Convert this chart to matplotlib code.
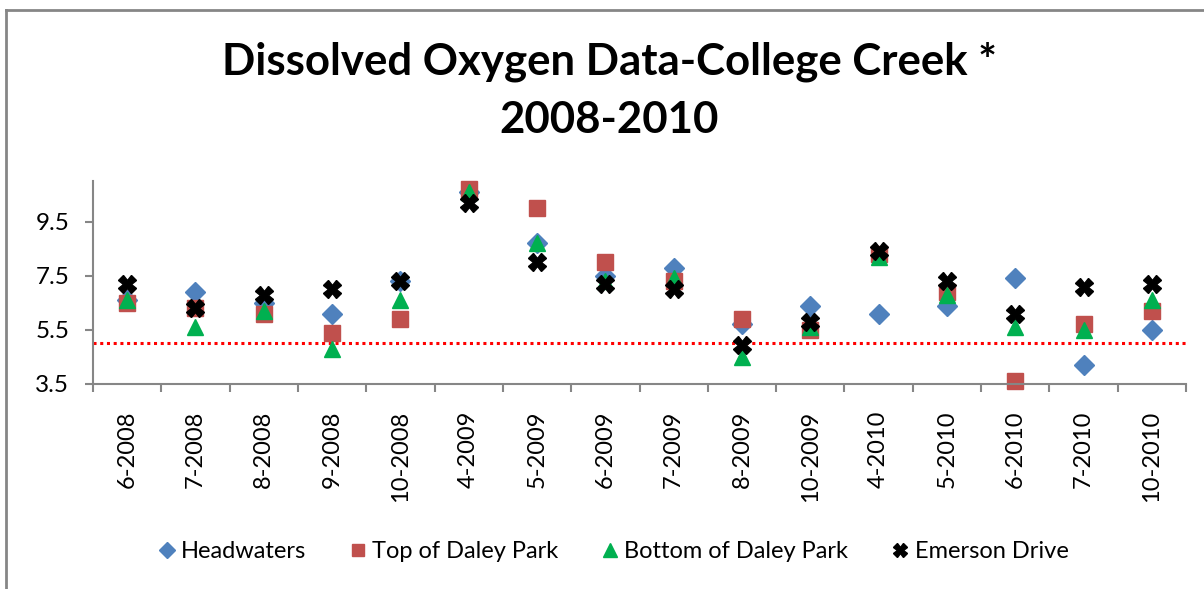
import matplotlib
matplotlib.use('Agg')
import matplotlib.pyplot as plt
import matplotlib.ticker as ticker
from matplotlib.lines import Line2D
import numpy as np

#------------------------------------------------------------------------------
# DATA

months = ['6-2008', '7-2008', '8-2008', '9-2008', '10-2008', '4-2009', '5-2009', '6-2009',
          '7-2009', '8-2009', '10-2009', '4-2010', '5-2010', '6-2010', '7-2010', '10-2010']

headwaters   = [6.6, 6.9, 6.5, 6.1, 7.3, 10.6, 8.7, 7.5, 7.8, 5.7, 6.4, 6.1, 6.4, 7.4, 4.2, 5.5]
top_daley    = [6.5, 6.3, 6.1, 5.4, 5.9, 10.7, 10.0, 8.0, 7.3, 5.9, 5.5, 8.3, 6.9, 3.6, 5.7, 6.2]
bottom_daley = [6.6, 5.6, 6.2, 4.8, 6.6, 10.6, 8.7, 7.3, 7.4, 4.5, 5.6, 8.2, 6.8, 5.6, 5.5, 6.6]
emerson      = [7.2, 6.3, 6.8, 7.0, 7.3, 10.2, 8.0, 7.2, 7.0, 4.95, 5.8, 8.4, 7.3, 6.1, 7.1, 7.2]

do_standard = 5.0   # dotted red reference line

yticks = [3.5, 5.5, 7.5, 9.5]

#------------------------------------------------------------------------------
# PLOT THE GRAPH

plt.rcParams['font.family'] = ['Lato', 'DejaVu Sans']

fig = plt.figure(figsize=(12.04, 5.89), dpi=100)
ax = fig.add_axes([93/1204, 1-384/589, (1186-93)/1204, (384-181)/589])

x = np.arange(len(months))
grey = '#868686'

ax.plot(x, headwaters, ls='none', marker='D', ms=10, c='#4F81BD', mec='#4F81BD', label='Headwaters', clip_on=False)
ax.plot(x, top_daley, ls='none', marker='s', ms=11, c='#C0504D', mec='#C0504D', label='Top of Daley Park', clip_on=False)
ax.plot(x, bottom_daley, ls='none', marker='^', ms=12, c='#00B050', mec='#00B050', label='Bottom of Daley Park', clip_on=False)
ax.plot(x, emerson, ls='none', marker='X', ms=12.5, c='black', mec='black', label='Emerson Drive', clip_on=False)

ax.axhline(do_standard, color='red', ls=(0, (1, 1.2)), lw=2.2, zorder=1)

# Format x-axis
ax.set_xlim(-0.5, len(months) - 0.5)
ax.xaxis.set_major_locator(ticker.FixedLocator(np.arange(-0.5, len(months), 1.0)))
ax.xaxis.set_major_formatter(ticker.NullFormatter())
ax.xaxis.set_minor_locator(ticker.FixedLocator(x))
ax.xaxis.set_minor_formatter(ticker.FixedFormatter(months))
ax.tick_params(axis='x', which='major', length=6, width=1.5, color=grey, direction='out')
ax.tick_params(axis='x', which='minor', length=0, pad=19, labelsize=17, labelrotation=90)

# Format y-axis
ax.set_ylim(3.5, 11)
ax.yaxis.set_major_locator(ticker.FixedLocator(yticks))
ax.yaxis.set_major_formatter(ticker.FormatStrFormatter('%.1f'))
ax.tick_params(axis='y', length=6, width=1.5, color=grey, direction='out', labelsize=17.5, pad=11)

for s in ['top', 'right']:
    ax.spines[s].set_visible(False)
for s in ['left', 'bottom']:
    ax.spines[s].set_color(grey)
    ax.spines[s].set_linewidth(1.5)

# Title
fig.text(0.506, 1-62/589, 'Dissolved Oxygen Data-College Creek *', ha='center', va='center',
         fontsize=31.5, fontweight='bold')
fig.text(0.506, 1-120/589, '2008-2010', ha='center', va='center', fontsize=31.5, fontweight='bold')

# Legend
fig.legend(loc='center', bbox_to_anchor=(614/1204, 1-552/589), ncol=4, frameon=False,
           fontsize=17, handlelength=0.6, handletextpad=0.3, columnspacing=1.9, markerscale=0.8)

# Chart area border (left and top only visible)
fig.add_artist(Line2D([6/1204, 6/1204], [0, 1-10/589], color=grey, lw=2))
fig.add_artist(Line2D([6/1204, 1], [1-10/589, 1-10/589], color=grey, lw=2))

fig.savefig('out.png', dpi=100)
